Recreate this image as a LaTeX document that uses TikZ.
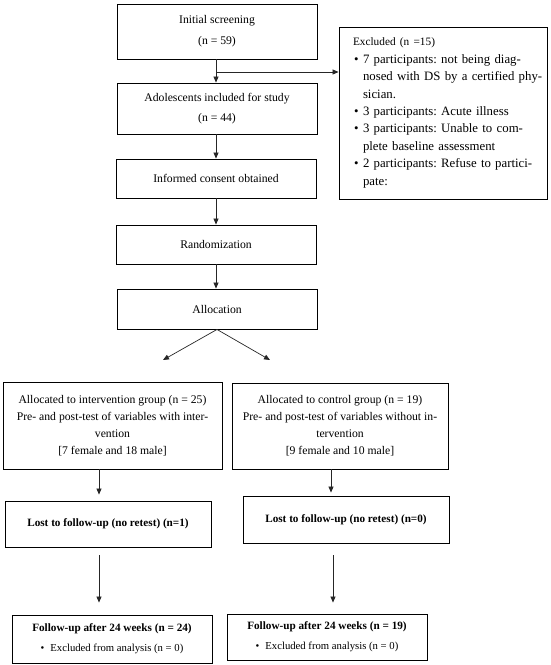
\documentclass[tikz,border=0pt]{standalone}
\usepackage{fontspec}
\setmainfont{Liberation Serif}
\usetikzlibrary{arrows.meta}
\frenchspacing
\newcommand{\exitem}[1]{\mbox{\makebox[10pt][l]{\hspace{1pt}\textbullet}#1}}
\newcommand{\excont}[1]{\mbox{\hspace*{10pt}#1}}
\begin{document}
\begin{tikzpicture}[x=1pt,y=-1pt,
  box/.style={draw, line width=0.9pt, inner sep=0pt, align=center,
    font=\fontsize{11.7}{17}\selectfont},
  boldbox/.style={draw, line width=0.9pt, inner sep=0pt, align=center,
    font=\fontsize{11.2}{15}\selectfont\bfseries},
  exbox/.style={draw, line width=0.9pt, inner xsep=14pt, inner ysep=0pt,
    text width=180pt, align=left, font=\fontsize{12.8}{17.4}\selectfont},
  arr/.style={draw=black!85, line width=0.7pt, -{Triangle[length=6pt,width=5pt]}}]
\useasboundingbox (0,0) rectangle (550,665);

% top column
\node[box, minimum width=200, minimum height=55] (init) at (217,31.5)
  {Initial screening\\[4pt](n = 59)};
\node[box, minimum width=200, minimum height=51] (adol) at (217,108.5)
  {Adolescents included for study\\[3pt](n = 44)};
\node[box, minimum width=200, minimum height=39] (cons) at (216,178.5)
  {Informed consent obtained};
\node[box, minimum width=200, minimum height=39] (rand) at (216,244.5)
  {Randomization};
\node[box, minimum width=200, minimum height=40] (alloc) at (217,309)
  {Allocation};

% excluded box
\node[exbox, minimum height=172] (excl) at (443,113)
  {\mbox{\fontsize{11.3}{17.4}\selectfont Excluded (n =15)}\\
   \exitem{7 participants: not being diag-}\\
   \excont{nosed with DS by a certified phy-}\\
   \excont{sician.}\\
   \exitem{3 participants: Acute illness}\\
   \exitem{3 participants: Unable to com-}\\
   \excont{plete baseline assessment}\\
   \exitem{2 participants: Refuse to partici-}\\
   \excont{pate:}};

% group boxes
\node[box, minimum width=219, minimum height=87] (intv) at (112.5,425.5)
  {Allocated to intervention group (n = 25)\\
   Pre- and post-test of variables with inter-\\
   vention\\
   {[}7 female and 18 male{]}};
\node[box, minimum width=216, minimum height=86] (ctrl) at (340,426)
  {Allocated to control group (n = 19)\\
   Pre- and post-test of variables without in-\\
   tervention\\
   {[}9 female and 10 male{]}};

\node[boldbox, minimum width=206, minimum height=46] (lostL) at (108,524)
  {Lost to follow-up (no retest) (n=1)};
\node[boldbox, minimum width=206, minimum height=47] (lostR) at (346,519.5)
  {Lost to follow-up (no retest) (n=0)};

\node[boldbox, minimum width=200, minimum height=48] (folL) at (112,639)
  {Follow-up after 24 weeks (n = 24)\\[5pt]
   {\normalfont\fontsize{10.7}{15}\selectfont\textbullet\hspace{6pt}Excluded from analysis (n = 0)}};
\node[boldbox, minimum width=200, minimum height=46] (folR) at (327,637)
  {Follow-up after 24 weeks (n = 19)\\[5pt]
   {\normalfont\fontsize{10.7}{15}\selectfont\textbullet\hspace{6pt}Excluded from analysis (n = 0)}};

% coordinates
\coordinate (br) at (216,72);
\coordinate (dl) at (163,360);
\coordinate (dr) at (270,360);
\coordinate (xL) at (99,0);
\coordinate (xR1) at (331,0);
\coordinate (xR2) at (333,0);

% connectors
\draw[arr] (init.south -| br) -- (adol.north -| br);
\draw[arr] (br) -- (br -| excl.west);
\draw[arr] (adol.south -| br) -- (cons.north -| br);
\draw[arr] (cons.south -| br) -- (rand.north -| br);
\draw[arr] (rand.south -| br) -- (alloc.north -| br);
\draw[arr] (alloc.south) -- (dl);
\draw[arr] (alloc.south) -- (dr);
\draw[arr, shorten >=6pt] (intv.south -| xL) -- (lostL.north -| xL);
\draw[arr, shorten <=8pt, shorten >=12pt] (lostL.south -| xL) -- (folL.north -| xL);
\draw[arr, shorten >=3pt] (ctrl.south -| xR1) -- (lostR.north -| xR1);
\draw[arr, shorten <=12pt, shorten >=11pt] (lostR.south -| xR2) -- (folR.north -| xR2);
\end{tikzpicture}
\end{document}
